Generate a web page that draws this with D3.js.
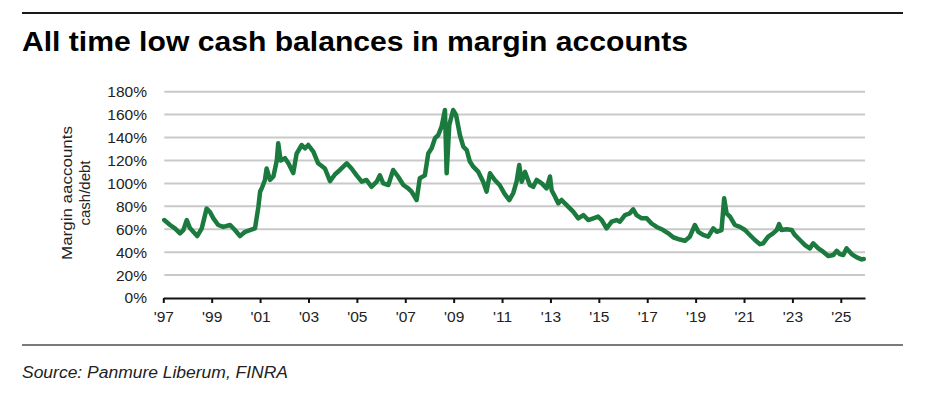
<!DOCTYPE html>
<html>
<head>
<meta charset="utf-8">
<script src="https://cdn.jsdelivr.net/npm/d3@7/dist/d3.min.js"></script>
<style>
  html, body { margin: 0; padding: 0; background: #fff; }
  svg { display: block; font-family: "Liberation Sans", Arial, sans-serif; }
</style>
</head>
<body>
<svg id="chart" width="930" height="395"></svg>
<script>
// ---- Data ----
const years = [
  1997.04,1997.28,1997.48,1997.69,1997.83,1997.97,1998.10,1998.24,1998.40,1998.59,1998.79,1998.93,
  1999.07,1999.27,1999.48,1999.76,1999.96,2000.17,2000.38,2000.58,2000.79,2000.93,2001.00,2001.07,
  2001.20,2001.27,2001.41,2001.55,2001.69,2001.75,2001.85,2002.03,2002.17,2002.37,2002.51,2002.72,
  2002.86,2002.99,2003.20,2003.40,2003.68,2003.89,2004.10,2004.30,2004.58,2004.78,2004.99,2005.20,
  2005.40,2005.60,2005.82,2005.95,2006.09,2006.30,2006.50,2006.70,2006.92,2007.12,2007.26,2007.47,
  2007.60,2007.81,2007.95,2008.09,2008.23,2008.36,2008.50,2008.64,2008.71,2008.82,2008.98,2009.10,
  2009.26,2009.40,2009.54,2009.67,2009.81,2010.02,2010.22,2010.36,2010.50,2010.70,2010.90,2011.10,
  2011.30,2011.46,2011.60,2011.71,2011.81,2011.95,2012.15,2012.29,2012.43,2012.64,2012.84,2012.98,
  2013.05,2013.19,2013.32,2013.46,2013.67,2013.94,2014.15,2014.36,2014.56,2014.77,2014.97,2015.12,
  2015.32,2015.53,2015.73,2015.87,2016.08,2016.28,2016.42,2016.56,2016.77,2016.98,2017.18,2017.39,
  2017.66,2017.87,2018.07,2018.35,2018.56,2018.76,2018.97,2019.11,2019.31,2019.52,2019.73,2019.87,
  2020.07,2020.18,2020.28,2020.42,2020.62,2020.83,2021.04,2021.24,2021.45,2021.66,2021.79,2022.00,
  2022.20,2022.35,2022.45,2022.55,2022.76,2022.97,2023.10,2023.31,2023.52,2023.72,2023.86,2024.07,
  2024.27,2024.48,2024.69,2024.83,2024.96,2025.10,2025.24,2025.45,2025.66,2025.86,2025.95
];
const cashDebt = [
  68,63.7,60.8,56.4,59.3,68,61,57.8,54,60.8,78,75,
  69.5,63.7,62,63.7,59.3,54,57.8,59.3,60.8,79.6,92.8,95.7,
  103,113,103,106,120,135,120,122,117.5,109,126,133.5,
  130.6,133.5,127.7,117.5,113,102,108,111.7,117.5,113,107,101.5,
  103,97,101.5,107,100,98.6,111.7,106,98.6,95.7,92.8,85.5,
  104.5,107,126,130.6,139.4,142,149.5,164,108.8,151,164,159.7,
  142,132,129,119,114.6,110,101.5,92.8,108.8,103,98.6,91,
  85.5,91.4,101.5,116,101.5,110,98.6,97,103,100,95.7,106,
  94,88.4,82.6,85.5,81,75.3,69.5,72.4,68,69.5,71,68,
  60.8,66.6,68,66.6,72.4,73.9,77.4,72.4,69.5,69.5,65,62,
  59.3,56.4,53,51,50,53.5,63.7,57.8,55,53.5,60.8,57.8,
  59.3,87,73.9,71,63.7,62,59.3,55,50.6,47,47.7,53.5,
  56.4,59.3,64.5,59.3,60,59.3,55,50.6,46.2,43.3,47.7,43.3,
  40.4,36.6,37.5,41.2,38.3,37.5,43.3,38.3,35.5,33.7,34
];
const xTickYears = [1997,1999,2001,2003,2005,2007,2009,2011,2013,2015,2017,2019,2021,2023,2025];
const xTickLabels = ["'97","'99","'01","'03","'05","'07","'09","'11","'13","'15","'17","'19","'21","'23","'25"];
const yTicks = [0,20,40,60,80,100,120,140,160,180];
const title = "All time low cash balances in margin accounts";
const yTitleLines = ["Margin aaccounts", "cash/debt"];
const source = "Source: Panmure Liberum, FINRA";

// ---- Drawing ----
const svg = d3.select("#chart");

const x = d3.scaleLinear().domain([1997, 2026]).range([163.3, 865]);
const y = d3.scaleLinear().domain([0, 180]).range([298, 91.7]);

// top rule
svg.append("line").attr("x1", 22).attr("x2", 903).attr("y1", 13).attr("y2", 13)
  .attr("stroke", "#1a1a1a").attr("stroke-width", 2.2);

// title
svg.append("text").attr("x", 22).attr("y", 51)
  .attr("font-size", 27.5).attr("font-weight", "bold").attr("fill", "#000")
  .attr("textLength", 666).attr("lengthAdjust", "spacingAndGlyphs")
  .text(title);

// gridlines
svg.append("g").selectAll("line").data(yTicks.filter(d => d > 0)).join("line")
  .attr("x1", x.range()[0] + 1).attr("x2", x.range()[1])
  .attr("y1", d => y(d)).attr("y2", d => y(d))
  .attr("stroke", "#c9c9c9").attr("stroke-width", 2);

// y axis labels
const yAxis = d3.axisLeft(y).tickValues(yTicks).tickFormat(d => d + "%").tickSize(0).tickPadding(0);
const gy = svg.append("g").attr("transform", "translate(147,0)").call(yAxis);
gy.select(".domain").remove();
gy.selectAll("text").attr("font-size", 15.5).attr("fill", "#222")
  .attr("font-family", "'Liberation Sans', Arial, sans-serif");

// x axis
const xAxis = d3.axisBottom(x).tickValues(xTickYears)
  .tickFormat((d, i) => xTickLabels[i]).tickSize(5).tickSizeOuter(0).tickPadding(8);
const gx = svg.append("g").attr("transform", `translate(0,${y(0)})`).call(xAxis);
gx.select(".domain").attr("stroke", "#111").attr("stroke-width", 2.2);
gx.selectAll(".tick line").attr("stroke", "#111").attr("stroke-width", 2);
gx.selectAll("text").attr("font-size", 15.5).attr("fill", "#222")
  .attr("font-family", "'Liberation Sans', Arial, sans-serif");

// y axis title
const yt = svg.append("text").attr("transform", "translate(0,193) rotate(-90)")
  .attr("text-anchor", "middle").attr("font-size", 15).attr("fill", "#222");
yt.append("tspan").attr("x", 0).attr("y", 72).attr("textLength", 134)
  .attr("lengthAdjust", "spacingAndGlyphs").text(yTitleLines[0]);
yt.append("tspan").attr("x", 0).attr("y", 90).text(yTitleLines[1]);

// line
const data = years.map((yr, i) => ({ t: yr, v: cashDebt[i] }));
svg.append("path").datum(data)
  .attr("d", d3.line().x(d => x(d.t)).y(d => y(d.v)))
  .attr("fill", "none").attr("stroke", "#1b7a3e").attr("stroke-width", 4.5)
  .attr("stroke-linejoin", "round").attr("stroke-linecap", "round");

// bottom rule
svg.append("line").attr("x1", 22).attr("x2", 903).attr("y1", 345).attr("y2", 345)
  .attr("stroke", "#7a7a7a").attr("stroke-width", 2.2);

// source
svg.append("text").attr("x", 22).attr("y", 378)
  .attr("font-size", 16).attr("font-style", "italic").attr("fill", "#222")
  .attr("textLength", 266).attr("lengthAdjust", "spacingAndGlyphs")
  .text(source);
</script>
</body>
</html>
